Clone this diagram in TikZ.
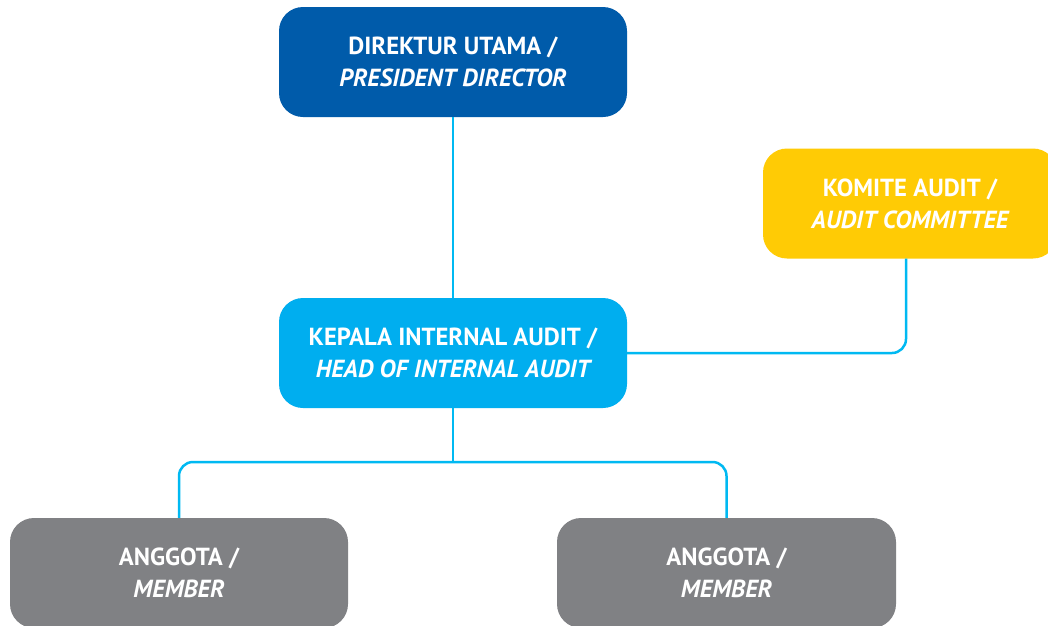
\documentclass[tikz,border=0pt]{standalone}
\usepackage{fontspec}
\setmainfont{PT Sans}
\definecolor{darkblue}{HTML}{005BAA}
\definecolor{lightblue}{HTML}{00AEEF}
\definecolor{yellowc}{HTML}{FFCB05}
\definecolor{grayc}{HTML}{808184}
\definecolor{linec}{HTML}{00B9F2}
\tikzset{
  box/.style={rounded corners=24pt, minimum width=348pt, minimum height=110pt, text=white, align=center, font=\fontsize{24.7}{32}\selectfont\bfseries, inner sep=0pt},
  conn/.style={draw=linec, line width=2.5pt, rounded corners=14pt}
}
\begin{document}
\begin{tikzpicture}[x=1pt,y=-1pt]
\useasboundingbox (0,0) rectangle (1048,625);
\clip (0,0) rectangle (1048,625);
\fill[white] (0,0) rectangle (1048,625);
\node[box, fill=darkblue] (pd) at (453,62) {DIREKTUR UTAMA /\\\itshape PRESIDENT DIRECTOR};
\node[box, fill=yellowc, minimum width=294pt] (ac) at (910,203.5) {KOMITE AUDIT /\\\itshape AUDIT COMMITTEE};
\node[box, fill=lightblue] (ia) at (453,353) {KEPALA INTERNAL AUDIT /\\\itshape HEAD OF INTERNAL AUDIT};
\node[box, fill=grayc, minimum width=338pt] (m1) at (179,573) {ANGGOTA /\\\itshape MEMBER};
\node[box, fill=grayc, minimum width=339pt] (m2) at (726.5,573) {ANGGOTA /\\\itshape MEMBER};
\coordinate (acb) at (906,258.5);
\coordinate (bus) at (453,462);
\draw[conn] (pd.south) -- (ia.north);
\draw[conn] (acb) |- (ia.east);
\draw[conn] (ia.south) -- (bus);
\draw[conn] (m1.north) |- (bus) -| (m2.north);
\end{tikzpicture}
\end{document}
